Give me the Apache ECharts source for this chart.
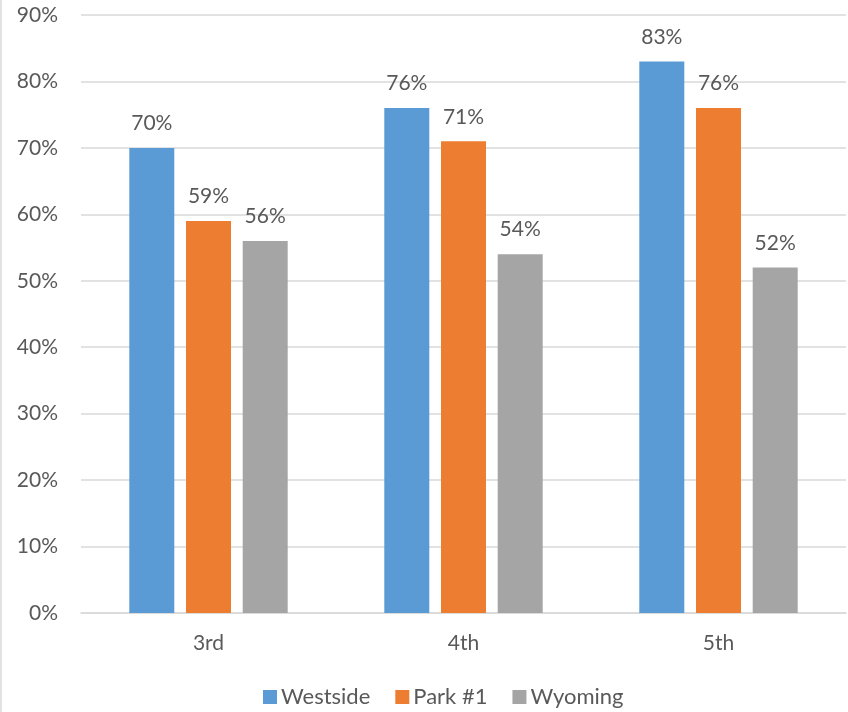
<!DOCTYPE html>
<html>
<head>
<meta charset="utf-8">
<script src="https://cdn.jsdelivr.net/npm/echarts@6/dist/echarts.min.js"></script>
<style>
  html, body { margin: 0; padding: 0; background: #fff; }
  #chart { width: 848px; height: 712px; }
</style>
</head>
<body>
<div id="chart"></div>
<script>
// Grade levels along the x axis
const grades = ['3rd', '4th', '5th'];
// Percent of students per school
const westside = [70, 76, 83];
const park1 = [59, 71, 76];
const wyoming = [56, 54, 52];
// Y axis range (percent)
const yMin = 0;
const yMax = 90;
const yStep = 10;

const font = 'Lato, "Open Sans", sans-serif';
const textColor = '#595959';
const fs = 21;

function barSeries(name, data, color) {
  return {
    name: name,
    type: 'bar',
    data: data,
    barWidth: 45,
    barGap: '26%',
    itemStyle: { color: color },
    label: {
      show: true,
      position: 'top',
      distance: 14,
      formatter: p => p.value + '%',
      color: textColor,
      fontFamily: font,
      fontSize: fs
    }
  };
}

const chart = echarts.init(document.getElementById('chart'));
chart.setOption({
  animation: false,
  backgroundColor: '#fff',
  textStyle: { fontFamily: font },
  grid: { left: 81, right: 2, top: 15, bottom: 99, containLabel: false },
  legend: {
    top: 681,
    left: 258,
    itemWidth: 14,
    itemHeight: 14,
    itemGap: 25,
    icon: 'rect',
    textStyle: { color: textColor, fontFamily: font, fontSize: 22, padding: [0, 0, 0, -1] },
    data: ['Westside', 'Park #1', 'Wyoming']
  },
  xAxis: {
    type: 'category',
    data: grades,
    axisLine: { lineStyle: { color: '#d9d9d9', width: 1.5 } },
    axisTick: { show: false },
    axisLabel: { color: textColor, fontFamily: font, fontSize: fs, margin: 20 }
  },
  yAxis: {
    type: 'value',
    min: yMin,
    max: yMax,
    interval: yStep,
    axisLine: { show: false },
    axisTick: { show: false },
    splitLine: { lineStyle: { color: '#d9d9d9', width: 1.5 } },
    axisLabel: {
      formatter: v => v + '%',
      color: textColor,
      fontFamily: font,
      fontSize: fs,
      margin: 23
    }
  },
  graphic: [{
    type: 'line',
    shape: { x1: 1, y1: 0, x2: 1, y2: 712 },
    style: { stroke: '#d9d9d9', lineWidth: 1.5 }
  }],
  series: [
    barSeries('Westside', westside, '#5b9bd5'),
    barSeries('Park #1', park1, '#ed7d31'),
    barSeries('Wyoming', wyoming, '#a5a5a5')
  ]
});
</script>
</body>
</html>
